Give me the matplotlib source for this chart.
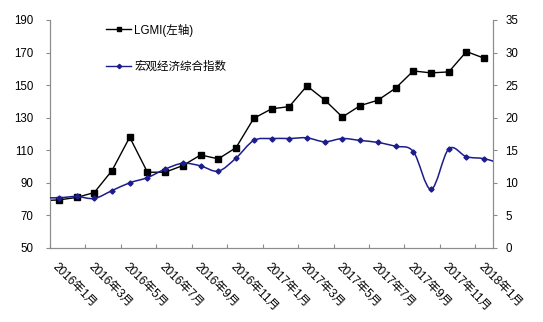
#!/usr/bin/env python3
"""Chart: LGMI vs macro-economic composite index, monthly 2016-2018."""

import numpy as np
import matplotlib
matplotlib.use("Agg")
import matplotlib.pyplot as plt
from matplotlib.path import Path
from matplotlib.patches import PathPatch
from matplotlib.lines import Line2D

plt.rcParams["font.family"] = ["Liberation Sans", "Noto Sans CJK SC"]

# Data: 2015-12 .. 2018-02 (the first and last month sit just outside the visible range)
months = ["2015年12月"] + [f"{y}年{m}月" for y in (2016, 2017) for m in range(1, 13)] + ["2018年1月", "2018年2月"]
lgmi = [79.0, 79.5, 81.0, 84.0, 97.5, 118.0, 96.5, 96.5, 100.6, 107.1, 104.7, 111.6, 129.6,
        135.4, 136.8, 149.5, 140.9, 130.4, 137.4, 140.7, 148.1, 158.7, 157.5, 158.1, 170.6,
        166.5, np.nan]
macro = [7.7, 7.7, 7.9, 7.6, 8.8, 10.0, 10.8, 12.1, 13.0, 12.6, 11.8, 13.8, 16.5,
         16.8, 16.8, 16.9, 16.3, 16.8, 16.5, 16.2, 15.6, 14.8, 9.0, 15.2, 14.0,
         13.7, 12.9]
tick_labels = [f"{y}年{m}月" for y in (2016, 2017) for m in (1, 3, 5, 7, 9, 11)] + ["2018年1月"]

x = np.arange(len(months)) - 1  # index 0 = 2016年1月


def excel_smooth(xs, ys):
    """Excel-style smoothed line as a cubic Bezier path."""
    pts = np.column_stack([np.asarray(xs, float), np.asarray(ys, float)])
    n = len(pts)
    verts = [pts[0]]
    codes = [Path.MOVETO]
    for i in range(n - 1):
        p0 = pts[i - 1] if i > 0 else pts[i]
        p1 = pts[i]
        p2 = pts[i + 1]
        p3 = pts[i + 2] if i + 2 < n else pts[i + 1]
        verts += [p1 + (p2 - p0) / 6.0, p2 - (p3 - p1) / 6.0, p2]
        codes += [Path.CURVE4] * 3
    return Path(verts, codes)


fig = plt.figure(figsize=(5.43, 3.22), dpi=100)
ax = fig.add_axes([0.092, 0.230, 0.816, 0.708])
ax2 = ax.twinx()

black = "#000000"
blue = "#1c1c8c"
spine_c = "#8c8c8c"

# LGMI on left axis
ax.plot(x, lgmi, color=black, lw=1.0, marker="s", ms=3.8, zorder=3)

# macro index on right axis, smoothed
ax2.add_patch(PathPatch(excel_smooth(x, macro), facecolor="none", edgecolor=blue, lw=1.1, zorder=3))
ax2.plot(x, macro, ls="none", marker="D", ms=2.6, color=blue, zorder=4)

ax.set_xlim(-0.5, 24.5)
ax.set_ylim(50, 190)
ax.set_yticks(range(50, 191, 20))
ax2.set_ylim(0, 35)
ax2.set_yticks(range(0, 36, 5))

# category axis: ticks between categories, labels every two months
ax.set_xticks(np.arange(-0.5, 24, 2), minor=False)
ax.set_xticklabels([])
ax.set_xticks(np.arange(0, 25, 2), minor=True)
ax.set_xticklabels(tick_labels, minor=True, rotation=-45, ha="left", va="top",
                   rotation_mode="anchor", fontsize=8.5)
ax.tick_params(axis="x", which="major", direction="in", length=3, color=spine_c)
ax.tick_params(axis="x", which="minor", length=0, pad=9)

ax.tick_params(axis="y", direction="out", length=3, color=spine_c, labelsize=8.3, pad=9)
ax2.tick_params(axis="y", direction="out", length=3, color=spine_c, labelsize=8.3, pad=6)

for a in (ax, ax2):
    a.spines["top"].set_visible(False)
    for s in ("left", "right", "bottom"):
        a.spines[s].set_color(spine_c)

handles = [
    Line2D([], [], color=black, lw=1.0, marker="s", ms=3.0),
    Line2D([], [], color=blue, lw=1.0, marker="D", ms=2.2),
]
ax.legend(handles, ["LGMI(左轴)", "宏观经济综合指数"], loc="upper left",
          bbox_to_anchor=(0.104, 1.03), frameon=False, fontsize=8.3,
          handlelength=2.1, handletextpad=0.3, labelspacing=2.1)

plt.savefig("out.png", dpi=100)
